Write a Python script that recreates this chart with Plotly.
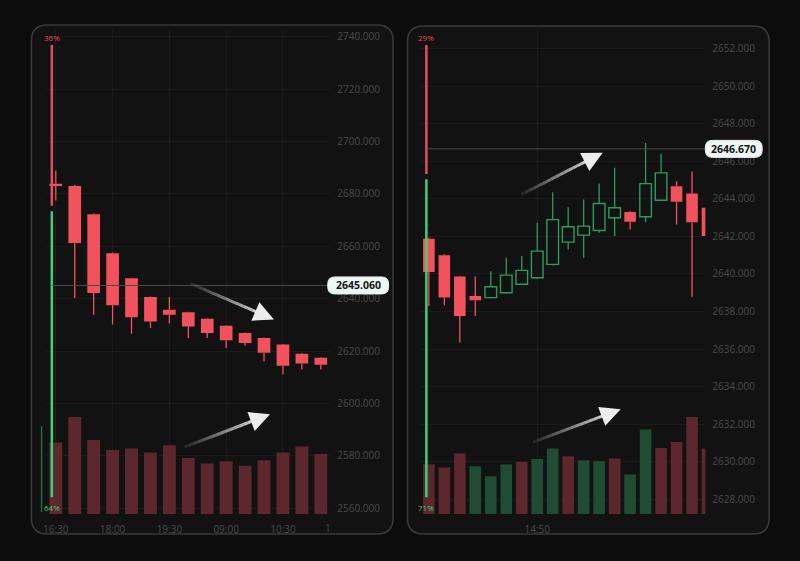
import plotly.graph_objects as go

W, H = 800, 561

# ---------------- data ----------------
# left panel (all candles decreasing)
left_open  = [2683.9, 2683.1, 2672.3, 2657.4, 2647.8, 2640.6, 2635.8, 2634.8, 2632.3, 2629.7, 2626.9, 2625.0, 2622.5, 2619.0, 2617.4]
left_high  = [2689.0, 2683.5, 2672.5, 2657.6, 2648.0, 2640.8, 2640.6, 2635.0, 2632.5, 2629.9, 2627.1, 2625.2, 2622.7, 2619.2, 2617.6]
left_low   = [2677.5, 2640.3, 2633.9, 2630.1, 2626.6, 2628.8, 2630.5, 2625.0, 2625.0, 2621.2, 2622.1, 2616.0, 2611.0, 2612.9, 2612.9]
left_close = [2683.2, 2661.3, 2642.2, 2637.5, 2632.9, 2631.3, 2633.9, 2629.4, 2626.9, 2624.1, 2623.1, 2619.3, 2614.4, 2615.2, 2614.8]
left_volume = [71.7, 97.3, 74.3, 64.3, 65.7, 61.7, 69.0, 56.3, 50.7, 53.0, 48.3, 54.0, 61.7, 67.7, 60.3]
left_volume_up = [False] * 15
left_time_labels = ["16:30", "18:00", "19:30", "09:00", "10:30"]
left_time_index = [0, 3, 6, 9, 12]
left_cut_label = "1"
left_price_ticks = [2560, 2580, 2600, 2620, 2640, 2660, 2680, 2700, 2720, 2740]
left_last_price = 2645.060
left_sell_pct, left_buy_pct = 36, 64

# right panel
right_open  = [2641.88, 2641.00, 2639.86, 2638.83, 2638.74, 2639.00, 2639.45, 2639.80, 2640.51, 2641.70, 2642.07, 2642.32, 2643.00, 2643.31, 2643.05, 2643.93, 2644.68, 2644.29, 2643.53]
right_high  = [2641.95, 2641.05, 2639.90, 2639.86, 2640.15, 2640.87, 2640.96, 2642.73, 2644.36, 2643.56, 2643.97, 2644.82, 2645.67, 2643.35, 2646.98, 2646.41, 2644.94, 2645.47, 2643.55]
right_low   = [2638.30, 2638.33, 2636.35, 2637.76, 2638.70, 2638.95, 2639.40, 2639.75, 2640.45, 2641.31, 2640.87, 2642.20, 2642.02, 2642.37, 2642.76, 2643.90, 2642.64, 2638.79, 2642.00]
right_close = [2640.10, 2638.74, 2637.76, 2638.60, 2639.32, 2639.94, 2640.19, 2641.22, 2642.90, 2642.52, 2642.55, 2643.76, 2643.53, 2642.78, 2644.82, 2645.39, 2643.85, 2642.76, 2642.02]
right_volume = [50.0, 46.7, 60.7, 48.0, 38.0, 49.7, 52.3, 55.3, 65.7, 58.0, 54.0, 53.0, 55.7, 39.7, 84.7, 66.3, 72.3, 97.3, 65.7]
right_volume_up = [False, False, False, True, True, True, False, True, True, False, True, True, False, True, True, False, False, False, False]
right_time_labels = ["14:50"]
right_time_index = [7]
right_price_ticks = [2628, 2630, 2632, 2634, 2636, 2638, 2640, 2642, 2644, 2646, 2648, 2650, 2652]
right_last_price = 2646.670
right_sell_pct, right_buy_pct = 29, 71

# ---------------- styling ----------------
RED = "#f2525e"
GREEN_C = "#2e9a5c"
VOL_RED = "#5c272d"
VOL_GREEN = "#1f4c33"
PCT_RED = "#e0505e"
PCT_GREEN = "#3fcf78"
GRID = "#1b1b1b"
TICK = "#4b4b4b"
FONT = "Open Sans"
PILL = "#eef5f5"

def PX(x):
    return x / W

def PY(y):
    return 1 - y / H

Y_TOP, Y_BOT = 30, 515
L_X = (43.5, 328.5)
R_X = (419.7, 705.0)
L_RANGE = [2557.71, 2742.67]
R_RANGE = [2627.20, 2653.01]
PCT_RANGE = [-3.3, 103.3]
VOL_RANGE = [0, 485]

fig = go.Figure()


def add_panel(xa, ya, yv, yp, o, h, l, c, vol, vol_up, body_w, vol_w, pct_x, sell, buy):
    n = len(o)
    idx = list(range(n))
    # volume
    fig.add_trace(go.Bar(x=idx, y=vol, width=vol_w,
                         marker=dict(color=[VOL_GREEN if u else VOL_RED for u in vol_up], line=dict(width=0)),
                         xaxis=xa, yaxis=yv, showlegend=False, hoverinfo="skip"))
    # wicks
    for up, col in [(False, RED), (True, GREEN_C)]:
        wx, wy = [], []
        for i in idx:
            if (c[i] > o[i]) != up:
                continue
            top, bot = max(o[i], c[i]), min(o[i], c[i])
            if h[i] > top:
                wx += [i, i, None]; wy += [top, h[i], None]
            if l[i] < bot:
                wx += [i, i, None]; wy += [bot, l[i], None]
        if wx:
            fig.add_trace(go.Scatter(x=wx, y=wy, mode="lines", line=dict(color=col, width=1.3),
                                     xaxis=xa, yaxis=ya, showlegend=False, hoverinfo="skip"))
    # bodies
    dn = [i for i in idx if c[i] <= o[i]]
    upi = [i for i in idx if c[i] > o[i]]
    if dn:
        fig.add_trace(go.Bar(x=dn, y=[o[i] - c[i] for i in dn], base=[c[i] for i in dn], width=body_w,
                             marker=dict(color=RED, line=dict(width=0)),
                             xaxis=xa, yaxis=ya, showlegend=False, hoverinfo="skip"))
    if upi:
        fig.add_trace(go.Bar(x=upi, y=[c[i] - o[i] for i in upi], base=[o[i] for i in upi], width=body_w,
                             marker=dict(color="rgba(0,0,0,0)", line=dict(color=GREEN_C, width=1.4)),
                             xaxis=xa, yaxis=ya, showlegend=False, hoverinfo="skip"))
    # buy / sell pct bar
    fig.add_trace(go.Scatter(x=[pct_x, pct_x], y=[0.4, buy - 0.6], mode="lines",
                             line=dict(color=PCT_GREEN, width=2.5),
                             xaxis=xa, yaxis=yp, showlegend=False, hoverinfo="skip"))
    fig.add_trace(go.Scatter(x=[pct_x, pct_x], y=[buy + 0.6, 100], mode="lines",
                             line=dict(color=PCT_RED, width=2.5),
                             xaxis=xa, yaxis=yp, showlegend=False, hoverinfo="skip"))
    fig.add_annotation(x=pct_x, y=101.6, xref=xa, yref=yp, text=f"{sell}%", showarrow=False,
                       xanchor="center", yanchor="middle",
                       font=dict(family=FONT, size=8, color=PCT_RED))
    fig.add_annotation(x=pct_x, y=-1.9, xref=xa, yref=yp, text=f"{buy}%", showarrow=False,
                       xanchor="center", yanchor="middle",
                       font=dict(family=FONT, size=8, color=PCT_GREEN))


add_panel("x", "y", "y3", "y5", left_open, left_high, left_low, left_close,
          left_volume, left_volume_up, 0.67, 0.68, -0.21, left_sell_pct, left_buy_pct)
add_panel("x2", "y2", "y4", "y6", right_open, right_high, right_low, right_close,
          right_volume, right_volume_up, 0.75, 0.75, -0.16, right_sell_pct, right_buy_pct)

ydom = [PY(Y_BOT), PY(Y_TOP)]
xcommon = dict(showgrid=True, gridcolor=GRID, gridwidth=1, zeroline=False, showline=False,
               ticks="outside", ticklen=6, tickcolor="rgba(0,0,0,0)",
               tickfont=dict(family=FONT, size=10, color=TICK), fixedrange=True)
ycommon = dict(showgrid=True, gridcolor=GRID, gridwidth=1, zeroline=False, showline=False,
               side="right", tickformat=".3f", ticks="outside", ticklen=4, tickcolor="rgba(0,0,0,0)",
               tickfont=dict(family=FONT, size=10, color=TICK), fixedrange=True)

fig.update_layout(
    width=W, height=H,
    margin=dict(l=0, r=0, t=0, b=0),
    paper_bgcolor="#0c0c0c",
    plot_bgcolor="rgba(0,0,0,0)",
    barmode="overlay",
    showlegend=False,
    xaxis=dict(domain=[PX(L_X[0]), PX(L_X[1])], range=[-0.5, 14.5], anchor="y",
               tickvals=left_time_index, ticktext=left_time_labels, **xcommon),
    xaxis2=dict(domain=[PX(R_X[0]), PX(R_X[1])], range=[-0.5, 17.86], anchor="y2",
                tickvals=right_time_index, ticktext=right_time_labels, **xcommon),
    yaxis=dict(domain=ydom, range=L_RANGE, anchor="x", tickvals=left_price_ticks, **ycommon),
    yaxis2=dict(domain=ydom, range=R_RANGE, anchor="x2", tickvals=right_price_ticks, **ycommon),
    yaxis3=dict(overlaying="y", anchor="x", range=VOL_RANGE, visible=False, fixedrange=True),
    yaxis4=dict(overlaying="y2", anchor="x2", range=VOL_RANGE, visible=False, fixedrange=True),
    yaxis5=dict(overlaying="y", anchor="x", range=PCT_RANGE, visible=False, fixedrange=True),
    yaxis6=dict(overlaying="y2", anchor="x2", range=PCT_RANGE, visible=False, fixedrange=True),
)

# truncated last time label on left panel
fig.add_annotation(x=14.4, y=PY(529), xref="x", yref="paper", text=left_cut_label, showarrow=False,
                   xanchor="center", yanchor="middle",
                   font=dict(family=FONT, size=10, color=TICK))


def rrect(x0, y0, x1, y1, r):
    return (f"M {PX(x0 + r)},{PY(y0)} L {PX(x1 - r)},{PY(y0)} Q {PX(x1)},{PY(y0)} {PX(x1)},{PY(y0 + r)} "
            f"L {PX(x1)},{PY(y1 - r)} Q {PX(x1)},{PY(y1)} {PX(x1 - r)},{PY(y1)} "
            f"L {PX(x0 + r)},{PY(y1)} Q {PX(x0)},{PY(y1)} {PX(x0)},{PY(y1 - r)} "
            f"L {PX(x0)},{PY(y0 + r)} Q {PX(x0)},{PY(y0)} {PX(x0 + r)},{PY(y0)} Z")


shapes = []
for (x0, y0, x1, y1) in [(28.5, 25, 391.5, 535), (406, 26, 769, 535)]:
    shapes.append(dict(type="path", path=rrect(x0, y0, x1, y1, 16), xref="paper", yref="paper",
                       fillcolor="#121212", line=dict(color="#393939", width=1.6), layer="below"))

# thin green marker left of first volume bar
shapes.append(dict(type="line", xref="paper", yref="paper", x0=PX(38.7), x1=PX(38.7), y0=PY(427), y1=PY(513),
                   line=dict(color="#2c6a44", width=1.4)))

# last price lines
for xa, ya, val in [("x", "y", left_last_price), ("x2", "y2", right_last_price)]:
    shapes.append(dict(type="line", xref=f"{xa} domain", yref=ya, x0=0.02, x1=1, y0=val, y1=val,
                       line=dict(color="#4a4a4a", width=1), layer="above"))


def val_to_px(v, rng):
    return Y_TOP + (rng[1] - v) / (rng[1] - rng[0]) * (Y_BOT - Y_TOP)


# gradient arrows (tail -> tip, pixel space)
arrows = [((188, 284), (272, 320)), ((182, 448), (268, 415)), ((520, 195), (602, 153)), ((532, 443), (620, 410))]
for (tx, ty), (hx, hy) in arrows:
    dx, dy = hx - tx, hy - ty
    L = (dx ** 2 + dy ** 2) ** 0.5
    ux, uy = dx / L, dy / L
    end = L - 14
    N = 16
    for k in range(N):
        a0, a1 = end * k / N, end * (k + 1) / N
        op = 0.05 + 0.85 * (k + 1) / N
        shapes.append(dict(type="line", xref="paper", yref="paper",
                           x0=PX(tx + ux * a0), y0=PY(ty + uy * a0), x1=PX(tx + ux * a1), y1=PY(ty + uy * a1),
                           line=dict(color=f"rgba(235,235,235,{op:.3f})", width=3), layer="above"))
    fig.add_annotation(x=PX(hx), y=PY(hy), xref="paper", yref="paper", text="", showarrow=True,
                       ax=-ux * 20, ay=-uy * 20, arrowhead=2, arrowsize=1.35, arrowwidth=3,
                       arrowcolor="#ececec")

# price pills (rounded background + text label)
for val, rng, xl, xr in [(left_last_price, L_RANGE, 326, 387), (right_last_price, R_RANGE, 705, 762)]:
    yc = val_to_px(val, rng)
    shapes.append(dict(type="path", path=rrect(xl, yc - 8.5, xr, yc + 8.5, 7), xref="paper", yref="paper",
                       fillcolor=PILL, line=dict(color=PILL, width=1), layer="above"))
    fig.add_annotation(x=PX((xl + xr) / 2), y=PY(yc), xref="paper", yref="paper", text=f"<b>{val:.3f}</b>",
                       showarrow=False, xanchor="center", yanchor="middle",
                       font=dict(family=FONT, size=10.5, color="#151515"))

fig.update_layout(shapes=shapes)
fig.write_html("out.html")
